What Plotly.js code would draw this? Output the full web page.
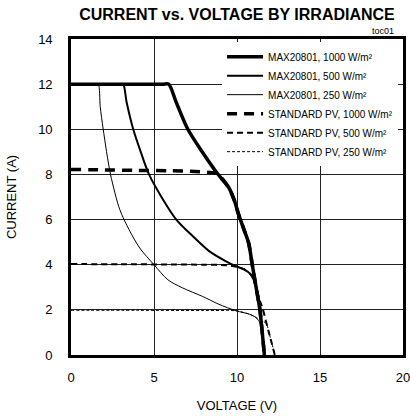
<!DOCTYPE html>
<html>
<head>
<meta charset="utf-8">
<script src="https://cdn.plot.ly/plotly-3.0.1.min.js"></script>
<style>html,body{margin:0;padding:0;background:#fff}#chart{width:410px;height:419px}</style>
</head>
<body>
<div id="chart"></div>
<script>
// Data (Voltage in V, Current in A)
const seriesNames = [
  "MAX20801, 1000 W/m²",
  "MAX20801, 500 W/m²",
  "MAX20801, 250 W/m²",
  "STANDARD PV, 1000 W/m²",
  "STANDARD PV, 500 W/m²",
  "STANDARD PV, 250 W/m²"
];

const max1000V = [0, 5.5, 5.88, 6.34, 7.04, 7.94, 8.82, 9.5, 9.84, 10.1, 10.4, 10.7, 10.92, 11.15, 11.38, 11.52, 11.65];
const max1000I = [12, 12, 12, 11.19, 10, 8.96, 8.04, 7.42, 6.85, 6.22, 5.6, 4.96, 4.0, 3.0, 2.0, 1.0, 0];

const max500V = [0, 2.9, 3.14, 3.35, 3.75, 4.2, 4.7, 5.54, 6.34, 7.34, 8.34, 9.34, 9.94, 10.4, 10.84, 11.05, 11.2, 11.38, 11.52, 11.65];
const max500I = [12, 12, 12, 11.2, 10, 9, 8, 6.89, 6.0, 5.26, 4.59, 4.15, 3.93, 3.8, 3.56, 3.25, 2.85, 2.0, 1.0, 0];

const max250V = [0, 1.45, 1.64, 1.76, 1.94, 2.38, 2.94, 3.5, 4.14, 5.0, 5.84, 6.7, 7.94, 8.9, 9.94, 10.74, 11.1, 11.34, 11.5, 11.62];
const max250I = [12, 12, 12, 11, 10, 8, 6.44, 5.55, 4.74, 4.0, 3.33, 2.98, 2.59, 2.25, 1.96, 1.81, 1.68, 1.48, 1.0, 0];

const std1000V = [0, 2, 4, 6, 7.5, 8.5, 8.82, 9.5, 9.84, 10.1, 10.4, 10.7, 10.92, 11.15, 11.38, 11.52, 11.65];
const std1000I = [8.22, 8.2, 8.18, 8.16, 8.13, 8.08, 8.04, 7.42, 6.85, 6.22, 5.6, 4.96, 4.0, 3.0, 2.0, 1.0, 0];

const std500V = [0, 3, 6, 8, 9.34, 9.94, 10.4, 10.84, 11.05, 11.2, 11.38, 11.54, 11.9, 12.28];
const std500I = [4.03, 4.02, 4.01, 4.0, 3.98, 3.92, 3.8, 3.56, 3.25, 2.85, 2.4, 2.07, 1.05, 0];

const std250V = [0, 4, 8, 9.5, 9.94, 10.74, 11.1, 11.45, 11.75, 12.0, 12.28];
const std250I = [1.98, 1.98, 1.97, 1.97, 1.96, 1.81, 1.68, 1.55, 1.4, 0.8, 0];

const xTicks = [0, 5, 10, 15, 20];
const yTicks = [0, 2, 4, 6, 8, 10, 12, 14];

const narrow = '"Liberation Sans Narrow", "Arial Narrow", "Liberation Sans", Arial, sans-serif';
const sans = '"Liberation Sans", Arial, sans-serif';

function tr(name, x, y, width, dash) {
  return {
    type: 'scatter', mode: 'lines', name: name, x: x, y: y,
    line: {color: '#000', width: width, dash: dash, shape: 'spline', smoothing: 0.8},
    hoverinfo: 'skip'
  };
}

const data = [
  tr(seriesNames[0], max1000V, max1000I, 3.5, 'solid'),
  tr(seriesNames[1], max500V, max500I, 2, 'solid'),
  tr(seriesNames[2], max250V, max250I, 1, 'solid'),
  tr(seriesNames[3], std1000V, std1000I, 3.5, '10px,7px'),
  tr(seriesNames[4], std500V, std500I, 2, '6px,4px'),
  tr(seriesNames[5], std250V, std250I, 1, '3px,2px')
];

const layout = {
  width: 410, height: 419,
  margin: {l: 71, r: 7, t: 39, b: 64, pad: 0},
  paper_bgcolor: '#fff', plot_bgcolor: '#fff',
  showlegend: true,
  title: {
    text: '<b>CURRENT vs. VOLTAGE BY IRRADIANCE</b>',
    font: {family: narrow, size: 16, color: '#000'},
    xref: 'paper', x: 0.5, xanchor: 'center',
    yref: 'container', y: 1 - 14/419, yanchor: 'middle'
  },
  xaxis: {
    range: [0, 20], tickvals: xTicks, ticktext: xTicks.map(String),
    showgrid: true, gridcolor: '#222', gridwidth: 1,
    zeroline: false, showline: true, linecolor: '#000', linewidth: 2.8, mirror: true,
    ticks: '', ticklabelstandoff: 9, ticklabeloverflow: 'allow',
    tickfont: {family: sans, size: 13, color: '#000'},
    title: {text: 'VOLTAGE (V)', font: {family: sans, size: 13, color: '#000'}, standoff: 17},
    fixedrange: true
  },
  yaxis: {
    range: [0, 14], tickvals: yTicks, ticktext: yTicks.map(String),
    showgrid: true, gridcolor: '#222', gridwidth: 1,
    zeroline: false, showline: true, linecolor: '#000', linewidth: 2.8, mirror: true,
    ticks: '', ticklabelstandoff: 13, ticklabeloverflow: 'allow',
    tickfont: {family: sans, size: 13, color: '#000'},
    title: {text: 'CURRENT (A)', font: {family: sans, size: 13, color: '#000'}, standoff: 19},
    fixedrange: true
  },
  legend: {
    x: 0.455, y: 0.99, xanchor: 'left', yanchor: 'top',
    bgcolor: '#fff', borderwidth: 0,
    font: {family: narrow, size: 10, color: '#000'},
    tracegroupgap: 0, itemwidth: 36
  },
  annotations: [{
    text: 'toc01', xref: 'paper', yref: 'paper', x: 0.98, y: 1, xanchor: 'right', yanchor: 'bottom',
    yshift: 1, showarrow: false, font: {family: sans, size: 9, color: '#000'}
  }]
};

Plotly.newPlot('chart', data, layout, {displayModeBar: false, staticPlot: true});
</script>
</body>
</html>
